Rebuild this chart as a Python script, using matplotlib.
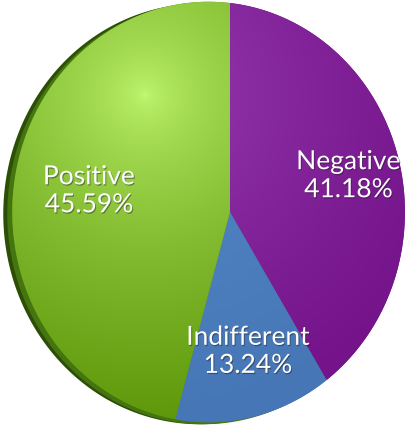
import numpy as np
import matplotlib
matplotlib.use("Agg")
import matplotlib.pyplot as plt
import matplotlib.transforms as mtransforms
import matplotlib.patheffects as pe
from matplotlib.path import Path
from matplotlib.patches import Circle
from matplotlib.colors import to_rgb

# data (counts out of 68 responses)
labels = ["Negative", "Indifferent", "Positive"]
counts = [28, 9, 31]

# slice colours: light (near highlight) and dark (far side)
light_colors = ["#9e44b8", "#5a90d0", "#c4fa74"]
dark_colors = ["#74138a", "#4676b6", "#5e980a"]

W, H = 407, 426


class Perspective(mtransforms.Transform):
    # pie face seen slightly from the left: unit disc -> pixel coords
    input_dims = 2
    output_dims = 2
    is_separable = False
    has_inverse = False

    def __init__(self, cx, cy, a, s, k):
        super().__init__()
        self.cx, self.cy, self.a, self.s, self.k = cx, cy, a, s, k

    def transform_non_affine(self, values):
        xy = np.asarray(values, dtype=float).reshape(-1, 2)
        u, v = xy[:, 0], xy[:, 1]
        w = 1 + self.k * u
        return np.column_stack([self.cx + self.a * u / w, self.cy - self.s * v / w])

    def transform_path_non_affine(self, path):
        verts, codes = [], []
        t = np.linspace(0, 1, 40)[1:]
        for seg, code in path.iter_bezier():
            if code == Path.MOVETO:
                verts.append(seg.control_points[0])
                codes.append(Path.MOVETO)
            else:
                pts = seg(t)
                verts.extend(pts)
                codes.extend([Path.LINETO] * len(pts))
        verts = np.array(verts)
        return Path(self.transform_non_affine(verts), codes)


fig = plt.figure(figsize=(W / 100, H / 100), dpi=100)
ax = fig.add_axes([0, 0, 1, 1])

persp = Perspective(230, 212, 194, 209, 0.109)

wedges, texts, autotexts = ax.pie(
    counts, startangle=90, counterclock=False,
    autopct=lambda p: f"{p:.2f}%", pctdistance=0.68,
    colors=dark_colors, wedgeprops=dict(linewidth=0),
)

# side of the disc peeking out on the left
for dx, col in [(-9, "#2c4f05"), (-5, "#447510")]:
    side = Circle((0, 0), 1, facecolor=col, linewidth=0, zorder=0.5)
    ax.add_patch(side)
    side.set_transform(persp + mtransforms.Affine2D().translate(dx, 2) + ax.transData)

# shading per slice
yy, xx = np.mgrid[0:H, 0:W] + 0.5
dist = np.hypot(xx - 145, yy - 95)
tt = (np.clip(dist / 330, 0, 1) ** 0.6)[..., None]

for w, lc, dc in zip(wedges, light_colors, dark_colors):
    w.set_transform(persp + ax.transData)
    w.set_zorder(1)
    img = (1 - tt) * np.array(to_rgb(lc)) + tt * np.array(to_rgb(dc))
    im = ax.imshow(img, extent=(0, W, H, 0), origin="upper", zorder=2,
                   interpolation="bilinear", aspect="auto")
    im.set_clip_path(w)

for t in texts:
    t.set_visible(False)

for t, name in zip(autotexts, labels):
    t.set_text(f"{name}\n{t.get_text()}")
    t.set_transform(persp + ax.transData)
    t.set_color("white")
    t.set_fontsize(19)
    t.set_family(["Lato", "DejaVu Sans"])
    t.set_fontweight("normal")
    t.set_linespacing(1.15)
    t.set_ha("center")
    t.set_va("center")
    t.set_zorder(5)
    t.set_path_effects([pe.withSimplePatchShadow(offset=(0.7, -0.9), shadow_rgbFace="#202020", alpha=0.45)])

ax.set_xlim(0, W)
ax.set_ylim(H, 0)
ax.set_aspect("auto")
ax.axis("off")

fig.savefig("out.png", dpi=100, facecolor="white")
